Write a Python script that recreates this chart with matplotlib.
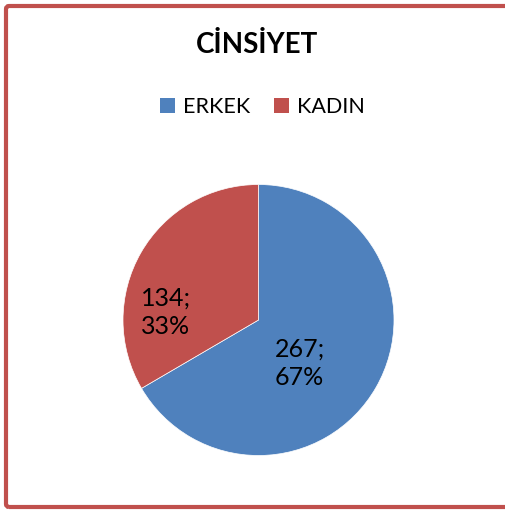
import matplotlib
matplotlib.use('agg')
import matplotlib.pyplot as plt
from matplotlib.patches import Patch, FancyBboxPatch

plt.rcParams['font.family'] = ['Lato', 'DejaVu Sans']

# data
categories = ['ERKEK', 'KADIN']
counts = [267, 134]
colors = ['#4F81BD', '#C0504D']
title = 'CİNSİYET'

W, H = 505, 512
fig = plt.figure(figsize=(W / 100, H / 100), dpi=100)
fig.patch.set_facecolor('white')

# red frame round the chart area (right side runs off the picture)
frame = FancyBboxPatch((6 / W, 5 / H), 1.2, (H - 11) / H, transform=fig.transFigure,
                       boxstyle='round,pad=0,rounding_size=0.006',
                       facecolor='none', edgecolor='#C0504D', linewidth=3)
fig.patches.append(frame)

# axes in pixel units, origin bottom-left
ax = fig.add_axes([0, 0, 1, 1])
wedges, _ = ax.pie(counts, colors=colors, startangle=90, counterclock=False,
                   center=(258.5, H - 320), radius=135.5,
                   wedgeprops=dict(edgecolor='white', linewidth=0.5))
# pie() sets its own limits, so put the pixel ones back afterwards
ax.set_xlim(0, W)
ax.set_ylim(0, H)
ax.set_aspect('equal')
ax.axis('off')

total = sum(counts)
label_pos = [(275, H - 363), (141, H - 312)]  # left edge / vertical centre of each label
for n, (x, y) in zip(counts, label_pos):
    ax.text(x, y, '%d;\n%d%%' % (n, round(n / total * 100)), ha='left', va='center',
            fontsize=18, linespacing=1.3, color='black')

fig.text(257 / W, 1 - 45 / H, title, ha='center', va='center',
         fontsize=20, fontweight='bold', color='black')

handles = [Patch(facecolor=c, edgecolor='none') for c in colors]
fig.legend(handles, categories, loc='center', bbox_to_anchor=(262 / W, 1 - 107 / H),
           ncol=2, frameon=False, fontsize=15.5, handlelength=0.72, handleheight=0.72,
           handletextpad=0.35, columnspacing=1.1)

fig.savefig('out.png', dpi=100)
